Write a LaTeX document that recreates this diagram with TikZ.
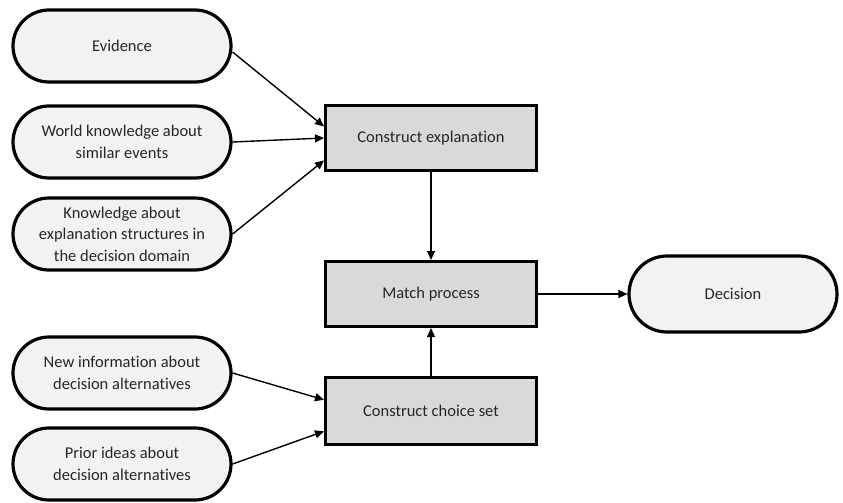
\documentclass[tikz,border=0pt]{standalone}
\usepackage{fontspec}
\setmainfont{Carlito}[Ligatures=NoCommon]
\usetikzlibrary{calc,arrows.meta}
\definecolor{pillfill}{HTML}{F2F2F2}
\definecolor{boxfill}{HTML}{D9D9D9}
\definecolor{txt}{HTML}{262626}
\tikzset{
  pill/.style={draw=black, line width=3.2pt, fill=pillfill, minimum width=218pt,
    minimum height=72pt, rounded corners=36pt, align=center, text=txt,
    font=\fontsize{16.5}{21.5}\selectfont, inner sep=0pt},
  procbox/.style={draw=black, line width=3pt, fill=boxfill, minimum width=211pt,
    minimum height=65pt, align=center, text=txt,
    font=\fontsize{16.5}{21.5}\selectfont, inner sep=0pt},
  link/.style={line width=1.4pt, -{Triangle[length=9pt,width=8pt]}},
}
\begin{document}
\begin{tikzpicture}[x=1pt,y=-1pt]
\useasboundingbox (0,0) rectangle (843,503);
% inputs for the explanation
\node[pill] (ev) at (122,46) {Evidence};
\node[pill] (wk) at (122,142) {World knowledge about\\similar events};
\node[pill] (ks) at (122,234) {Knowledge about\\explanation structures in\\the decision domain};
% inputs for the choice set
\node[pill] (ni) at (122,373) {New information about\\decision alternatives};
\node[pill] (pi) at (122,464) {Prior ideas about\\decision alternatives};
% process boxes
\node[procbox] (ce) at (431,138) {Construct explanation};
\node[procbox] (mp) at (431,294) {Match process};
\node[procbox, minimum height=67pt] (cc) at (431,411) {Construct choice set};
% outcome
\node[pill, minimum width=208pt, minimum height=76pt, rounded corners=38pt] (de) at (733,294) {Decision};
% connectors
\draw[link] ($(ev.east)+(0,6)$) -- ($(ce.north west)!0.33!(ce.south west)$);
\draw[link] (wk.east) -- (ce.west);
\draw[link] (ks.east) -- ($(ce.north west)!0.83!(ce.south west)$);
\draw[link] (ni.east) -- ($(cc.north west)!0.34!(cc.south west)$);
\draw[link] (pi.east) -- ($(cc.north west)!0.79!(cc.south west)$);
\draw[link] (ce.south) -- (mp.north);
\draw[link] (cc.north) -- (mp.south);
\draw[link] (mp.east) -- (de.west);
\end{tikzpicture}
\end{document}
